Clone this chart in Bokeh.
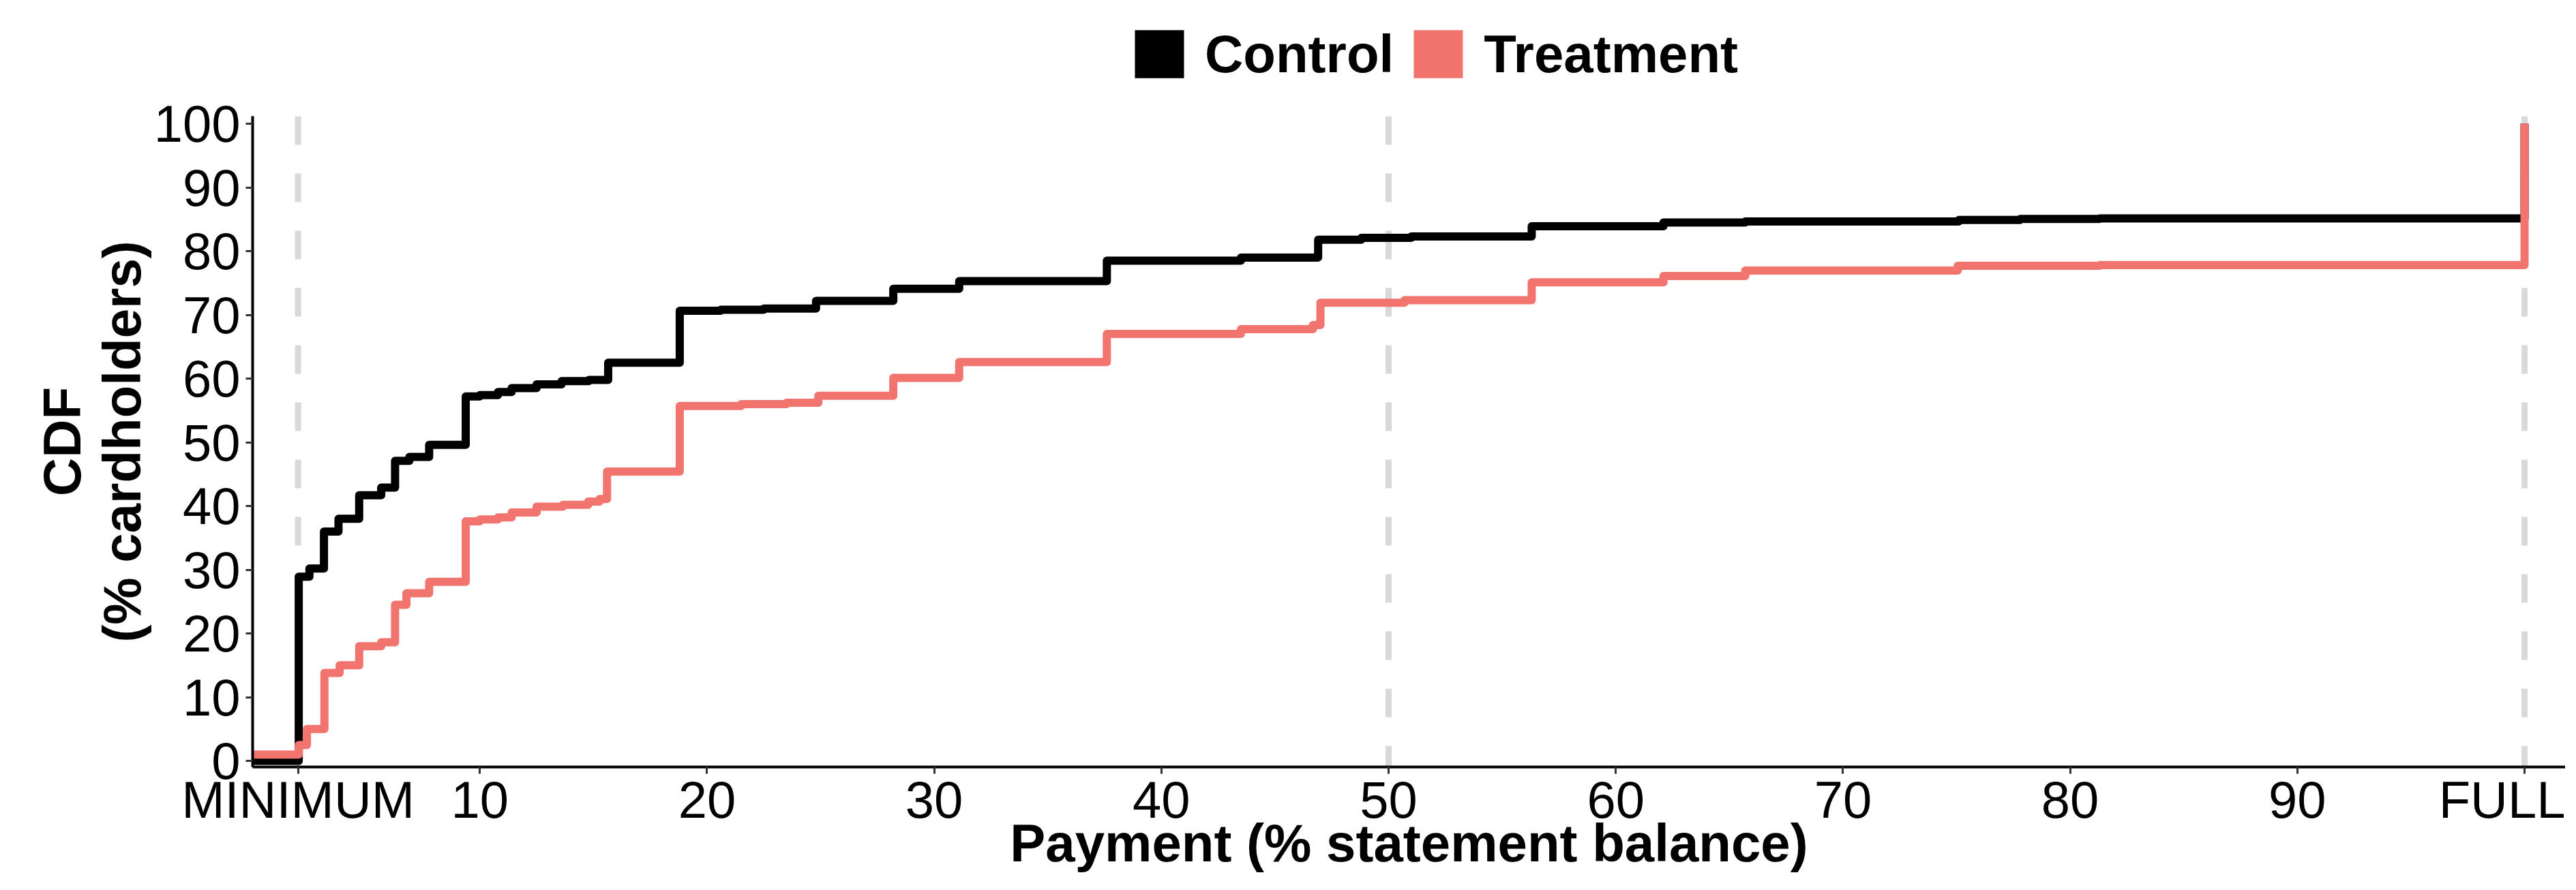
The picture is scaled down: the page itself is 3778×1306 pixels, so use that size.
from bokeh.plotting import figure
from bokeh.layouts import column
from bokeh.models import Range1d, FixedTicker, Span, Legend, LegendItem, LinearAxis
from bokeh.embed import file_html
from bokeh.resources import INLINE

FONT = "Liberation Sans"

# Step CDF data: y value holds from x[i] up to x[i+1]
control_x = [0, 2.03, 2.50, 3.14, 3.78, 4.69, 5.66, 6.27, 6.90, 7.77, 9.38, 10.0, 10.8, 11.4,
             12.5, 13.6, 14.8, 15.65, 18.8, 20.6, 22.5, 24.8, 28.2, 31.1, 37.6, 43.5, 46.9,
             48.8, 51.0, 56.3, 62.1, 65.7, 75.1, 77.8, 81.3, 100]
control_y = [0, 28.9, 30.2, 36.0, 38.0, 41.7, 42.9, 47.1, 47.7, 49.6, 57.2, 57.4, 57.9, 58.5,
             59.1, 59.6, 59.8, 62.5, 70.65, 70.8, 71.0, 72.2, 74.1, 75.3, 78.5, 79.0, 81.8,
             82.1, 82.3, 83.9, 84.5, 84.65, 84.9, 85.05, 85.15, 100]

treat_x = [0, 2.03, 2.39, 3.16, 3.83, 4.69, 5.66, 6.27, 6.77, 7.77, 9.38, 10.0, 10.8, 11.4,
           12.5, 13.66, 14.77, 15.27, 15.6, 18.8, 21.5, 23.5, 24.9, 28.2, 31.1, 37.6, 43.5,
           46.67, 47.0, 50.7, 56.3, 62.1, 65.7, 75.05, 81.3, 100]
treat_y = [1.0, 2.5, 5.0, 13.8, 15.0, 18.0, 18.6, 24.5, 26.3, 28.1, 37.6, 37.9, 38.2, 39.0,
           39.9, 40.2, 40.7, 41.1, 45.4, 55.7, 56.0, 56.2, 57.3, 60.1, 62.6, 67.0, 67.75,
           68.4, 71.9, 72.3, 75.1, 76.1, 76.95, 77.7, 77.8, 100]

x_ticks = [2, 10, 20, 30, 40, 50, 60, 70, 80, 90, 100]
x_tick_labels = ["MINIMUM", "10", "20", "30", "40", "50", "60", "70", "80", "90", "FULL"]
y_ticks = [0, 10, 20, 30, 40, 50, 60, 70, 80, 90, 100]
ref_lines = [2, 50, 100]

series_names = ["Control", "Treatment"]
series_colors = ["#000000", "#F1746F"]

W = 3762
LEFT = 370
TOP_H = 130
MAIN_H = 1160

# ---- legend strip on top ----
top = figure(width=W, height=TOP_H, output_backend="svg", toolbar_location=None,
             x_range=Range1d(0, W - LEFT), y_range=Range1d(0, TOP_H),
             min_border_left=LEFT, min_border_right=0, min_border_top=0, min_border_bottom=0,
             x_axis_location=None, y_axis_location=None)
top.outline_line_color = None
top.xgrid.visible = False
top.ygrid.visible = False
top.background_fill_color = "white"
top.border_fill_color = "white"

sw = []
for c in series_colors:
    # swatch renderers, kept outside the visible range
    sw.append(top.quad(left=[-60], right=[-50], top=[-50], bottom=[-60],
                       fill_color=c, line_color=None))

legend = Legend(items=[LegendItem(label=n, renderers=[r]) for n, r in zip(series_names, sw)],
                orientation="horizontal", location=(1285, 5.5),
                glyph_width=90, glyph_height=88, label_standoff=22, spacing=20,
                padding=10, margin=0, border_line_color=None, background_fill_alpha=0,
                label_text_font=FONT, label_text_font_size="78px",
                label_text_font_style="bold", label_text_color="black")
top.add_layout(legend, "center")

# ---- main plot ----
p = figure(width=W, height=MAIN_H, output_backend="svg", toolbar_location=None,
           x_range=Range1d(0, 101.8), y_range=Range1d(-0.96, 101.18),
           min_border_left=LEFT, min_border_right=0, min_border_top=170 - TOP_H,
           min_border_bottom=165)
p.outline_line_color = None
p.xgrid.visible = False
p.ygrid.visible = False
p.background_fill_color = "white"
p.border_fill_color = "white"

for ax in (p.xaxis[0], p.yaxis[0]):
    ax.axis_line_color = "black"
    ax.axis_line_width = 4
    ax.major_tick_line_color = "#333333"
    ax.major_tick_line_width = 3
    ax.major_tick_out = 10
    ax.major_tick_in = 0
    ax.minor_tick_line_color = None
    ax.major_label_text_font = FONT
    ax.major_label_text_font_size = "76px"
    ax.major_label_text_color = "black"
    ax.axis_label_text_font = FONT
    ax.axis_label_text_font_size = "78px"
    ax.axis_label_text_font_style = "bold"
    ax.axis_label_text_color = "black"

p.xaxis.ticker = FixedTicker(ticks=x_ticks)
p.xaxis.major_label_overrides = {t: l for t, l in zip(x_ticks, x_tick_labels)}
p.xaxis.major_label_standoff = -5
p.xaxis.axis_label = "Payment (% statement balance)"
p.xaxis.axis_label_standoff = -26

p.yaxis.ticker = FixedTicker(ticks=y_ticks)
p.yaxis.major_label_standoff = 8
p.yaxis.axis_label = "(% cardholders)"
p.yaxis.axis_label_standoff = 0

cdf_axis = LinearAxis(axis_label="CDF", ticker=FixedTicker(ticks=[]),
                      major_tick_out=0, major_tick_in=0, minor_tick_out=0,
                      axis_line_color=None, major_tick_line_color=None,
                      minor_tick_line_color=None, major_label_standoff=0,
                      axis_label_standoff=-3, axis_label_text_font=FONT,
                      axis_label_text_font_size="78px", axis_label_text_font_style="bold",
                      axis_label_text_color="black")
p.add_layout(cdf_axis, "left")

for xv in ref_lines:
    p.add_layout(Span(location=xv, dimension="height", line_color="#D9D9D9",
                      line_width=9, line_dash="42 42", level="underlay"))

p.step(control_x, control_y, mode="after", line_color=series_colors[0],
       line_width=12, line_join="round")
p.step(treat_x, treat_y, mode="after", line_color=series_colors[1],
       line_width=12, line_join="round")

layout = column(top, p, spacing=0)
open("out.html", "w").write(file_html(layout, INLINE))
